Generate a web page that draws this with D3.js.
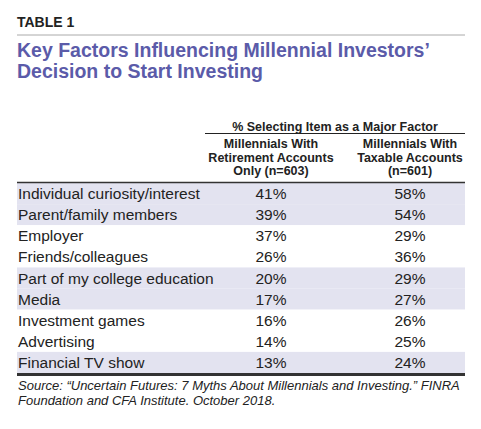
<!DOCTYPE html>
<html>
<head>
<meta charset="utf-8">
<script src="https://cdn.jsdelivr.net/npm/d3@7"></script>
<style>
    body { margin: 0; background: #fff; }
    text { font-family: "Liberation Sans Narrow", "Liberation Sans", sans-serif; }
</style>
</head>
<body>
<svg id="chart" width="481" height="429"></svg>
<script>
'use strict';

var factors = ['Individual curiosity/interest', 'Parent/family members', 'Employer', 'Friends/colleagues',
    'Part of my college education', 'Media', 'Investment games', 'Advertising', 'Financial TV show'];
var retirementOnly = [41, 39, 37, 26, 20, 17, 16, 14, 13];
var taxable = [58, 54, 29, 36, 29, 27, 26, 25, 24];
var columnHeads = [
    ['Millennials With', 'Retirement Accounts', 'Only (n=603)'],
    ['Millennials With', 'Taxable Accounts', '(n=601)']
];
var shaded = [true, true, false, false, true, true, false, false, true];

var svg = d3.select('#chart'),
    left = 17,
    right = 465,
    blue = '#5b5ba9';

// Header block.
svg.append('text').attr('x', left).attr('y', 27)
    .style('font-family', '"Liberation Sans", sans-serif')
    .attr('font-size', 14).attr('font-weight', 'bold').attr('fill', '#222').text('TABLE 1');
svg.append('line').attr('x1', left).attr('x2', right).attr('y1', 35).attr('y2', 35)
    .attr('stroke', '#aaa').attr('stroke-width', 1);

['Key Factors Influencing Millennial Investors\u2019', 'Decision to Start Investing'].forEach(function (t, i) {
    svg.append('text').attr('x', left).attr('y', 57 + i * 20.5)
        .style('font-family', '"Liberation Sans", sans-serif')
        .attr('font-size', 19.5).attr('font-weight', 'bold').attr('fill', blue).text(t);
});

// Column scale and row scale.
var x = d3.scaleOrdinal().domain(['ret', 'tax']).range([271, 410]);
var y = d3.scaleBand().domain(factors).range([183, 373]);

svg.append('text').attr('x', 335).attr('y', 131).attr('text-anchor', 'middle')
    .attr('font-size', 12.5).attr('font-weight', 'bold').attr('fill', '#222')
    .text('% Selecting Item as a Major Factor');
svg.append('line').attr('x1', 205).attr('x2', right).attr('y1', 133.5).attr('y2', 133.5)
    .attr('stroke', '#222').attr('stroke-width', 1.2);

columnHeads.forEach(function (lines, c) {
    lines.forEach(function (t, i) {
        svg.append('text').attr('x', x(c ? 'tax' : 'ret')).attr('y', 148 + i * 13.5)
            .attr('text-anchor', 'middle').attr('font-size', 12.5).attr('font-weight', 'bold')
            .attr('fill', '#222').text(t);
    });
});

// Rows.
var rows = svg.selectAll('.row').data(factors).enter().append('g').attr('class', 'row')
    .attr('transform', function (d) { return 'translate(0,' + y(d) + ')'; });

rows.append('rect').attr('x', left).attr('width', right - left).attr('height', y.bandwidth())
    .attr('fill', function (d, i) { return shaded[i] ? '#e3e3f0' : '#fff'; });

rows.append('text').attr('x', left + 1).attr('y', y.bandwidth() - 5)
    .attr('font-size', 15.5).attr('fill', '#222').text(function (d) { return d; });
rows.append('text').attr('x', x('ret')).attr('y', y.bandwidth() - 5).attr('text-anchor', 'middle')
    .attr('font-size', 15.5).attr('fill', '#222').text(function (d, i) { return retirementOnly[i] + '%'; });
rows.append('text').attr('x', x('tax')).attr('y', y.bandwidth() - 5).attr('text-anchor', 'middle')
    .attr('font-size', 15.5).attr('fill', '#222').text(function (d, i) { return taxable[i] + '%'; });

svg.append('line').attr('x1', left).attr('x2', right).attr('y1', 182.5).attr('y2', 182.5)
    .attr('stroke', '#333').attr('stroke-width', 1.5);
svg.append('line').attr('x1', left).attr('x2', right).attr('y1', 374.5).attr('y2', 374.5)
    .attr('stroke', '#333').attr('stroke-width', 3);

// Source note.
['Source: \u201cUncertain Futures: 7 Myths About Millennials and Investing.\u201d FINRA',
 'Foundation and CFA Institute. October 2018.'].forEach(function (t, i) {
    svg.append('text').attr('x', left + 1).attr('y', 390 + i * 14.5)
        .attr('font-size', 13).attr('font-style', 'italic').attr('fill', '#222').text(t);
});
</script>
</body>
</html>
